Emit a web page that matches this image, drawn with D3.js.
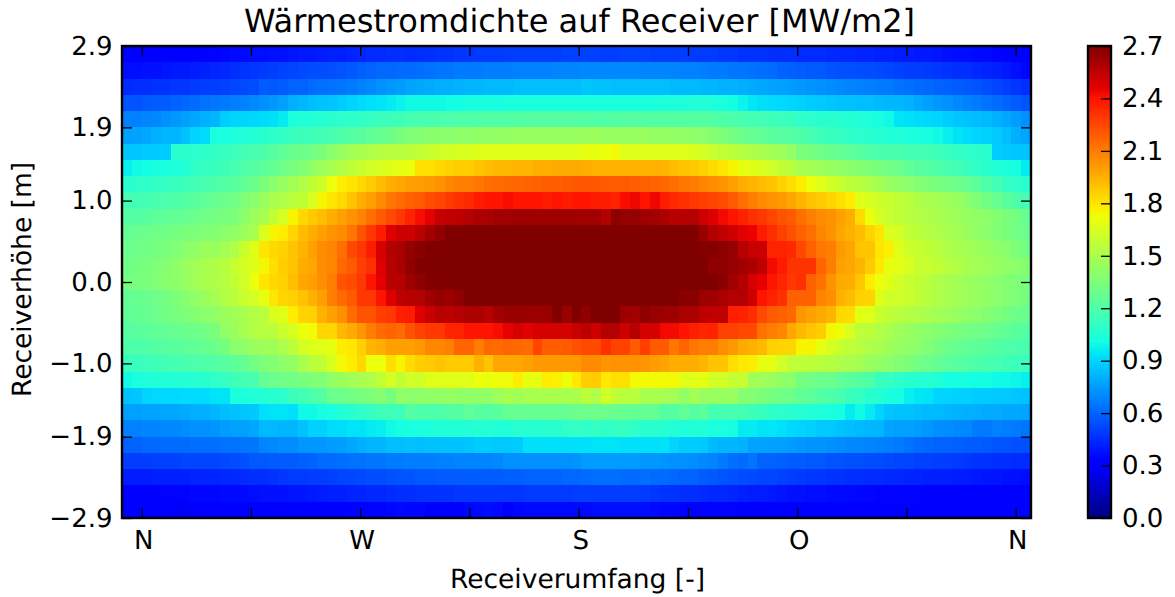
<!DOCTYPE html>
<html>
<head>
<meta charset="utf-8">
<script src="https://d3js.org/d3.v7.min.js"></script>
<style>
  body { margin: 0; background: #fff; }
  text { font-family: "DejaVu Sans", sans-serif; fill: #000; text-rendering: geometricPrecision; }
</style>
</head>
<body>
<svg id="chart" width="1175" height="597"></svg>
<script>
// unit 0.01 MW/m2, top row of the plot first, 93 cells per row
const fluxRows = [
  [30,30,31,31,31,32,33,33,33,34, 35,36,36,37,37,38,38,39,40,40, 41,42,42,43,44,45,45,46,46,45, 46,46,47,47,48,48,49,49,49,50, 50,50,50,50,50,51,51,51,51,50, 50,51,51,51,50,50,50,50,49,49, 49,48,48,47,47,47,46,46,46,45, 45,45,44,44,44,43,43,42,42,41, 41,40,40,39,38,37,37,36,36,34, 33,31,31],
  [37,37,38,38,39,40,40,41,42,43, 44,46,47,48,49,50,51,52,53,54, 54,55,56,57,59,60,61,61,62,62, 63,64,65,65,66,66,66,67,67,67, 68,68,68,68,69,69,69,70,70,70, 70,70,70,69,69,69,69,68,68,67, 66,66,65,65,64,63,62,60,59,58, 57,57,56,55,55,54,54,53,52,51, 50,50,49,48,47,46,46,44,43,42, 40,38,35],
  [45,46,46,47,47,48,48,49,50,50, 51,52,53,54,58,57,58,60,60,62, 63,64,65,66,68,70,72,74,75,77, 78,79,80,80,81,82,82,83,83,83, 84,84,84,84,84,84,84,86,85,85, 84,84,84,84,84,84,83,83,83,82, 82,81,81,80,79,78,77,76,75,74, 73,72,71,70,69,68,67,66,66,64, 63,62,61,60,59,58,57,56,54,52, 50,48,46],
  [56,56,57,58,58,60,61,62,64,65, 66,67,68,70,72,74,76,80,82,84, 85,86,88,90,92,93,94,96,98,100, 100,100,100,101,101,102,102,102,102,103, 103,103,103,103,103,103,103,103,103,103, 103,103,103,103,103,104,104,104,105,105, 104,103,101,98,95,93,92,91,90,89, 88,87,86,85,85,84,84,83,82,82, 81,78,76,74,72,70,68,66,64,62, 60,58,56],
  [68,68,69,70,72,74,76,78,80,82, 88,90,90,91,92,93,96,104,105,106, 107,108,109,110,111,112,113,114,115,117, 118,118,119,119,120,120,120,121,121,121, 122,122,122,122,122,122,122,122,121,121, 122,122,122,122,122,122,122,122,122,122, 121,120,119,118,117,116,115,114,113,110, 109,108,108,107,106,105,104,102,100,94, 93,92,91,90,88,86,85,84,83,80, 78,75,72],
  [76,77,78,80,82,82,85,90,92,103, 103,104,105,106,108,110,111,113,114,115, 116,118,120,122,124,126,128,131,134,137, 138,139,140,140,141,141,142,142,143,143, 144,144,144,144,144,144,144,145,145,144, 144,144,144,144,143,143,142,142,141,140, 138,136,133,130,128,126,124,123,122,120, 117,115,113,112,110,109,108,107,106,105, 104,103,102,100,97,94,92,90,89,87, 84,80,78],
  [86,86,87,87,88,108,108,109,110,111, 113,114,116,118,120,123,126,129,130,132, 135,140,144,148,150,152,154,155,155,156, 158,160,162,164,165,166,167,168,168,168, 168,168,168,168,168,168,168,170,170,172, 174,167,167,167,167,167,167,167,166,163, 160,158,156,154,152,150,148,146,142,135, 133,131,129,127,125,123,120,119,118,118, 117,117,116,115,113,111,110,109,108,88, 87,86,85],
  [97,100,101,102,103,104,106,110,112,113, 115,117,120,122,125,128,131,134,137,142, 146,150,153,157,160,163,165,168,170,172, 182,182,184,186,187,187,190,192,193,193, 194,194,196,196,197,197,197,196,195,195, 195,195,195,195,195,194,192,190,188,186, 183,180,176,170,168,165,162,158,155,150, 148,146,144,142,140,138,136,134,132,130, 126,124,122,120,118,116,113,110,108,106, 104,102,96],
  [108,109,110,111,112,113,114,116,118,120, 122,124,126,130,135,140,144,148,152,158, 162,172,178,180,184,188,192,196,198,200, 201,202,204,208,209,210,212,214,215,216, 216,217,218,219,219,220,221,221,221,220, 220,220,219,218,217,216,214,212,210,208, 206,204,200,196,194,192,190,186,182,178, 172,168,164,160,156,155,152,148,144,142, 140,138,136,134,132,130,128,124,120,116, 112,110,108],
  [116,116,117,118,119,120,122,124,126,128, 130,132,136,140,145,150,152,155,158,165, 175,180,184,190,196,200,206,212,215,218, 220,224,226,230,232,234,238,240,240,242, 240,240,240,238,240,238,240,240,238,238, 236,242,244,240,244,238,234,232,230,228, 226,224,220,214,210,206,204,202,198,194, 190,188,185,182,178,168,165,162,160,157, 155,152,150,148,146,144,140,136,132,128, 124,120,116],
  [122,122,124,125,126,127,128,130,132,133, 134,136,140,146,150,158,165,176,184,188, 192,196,200,204,208,214,220,225,230,236, 242,247,254,255,256,258,260,260,262,262, 263,263,263,263,263,263,262,262,262,258, 267,265,265,263,262,260,257,257,258,252, 248,243,240,236,232,230,226,222,220,214, 210,206,204,200,196,183,172,164,160,158, 155,153,152,150,148,146,144,142,140,138, 135,133,128],
  [128,129,130,131,132,133,135,136,137,138, 140,142,146,150,166,176,178,185,192,196, 200,204,206,212,222,230,238,248,252,252, 256,262,266,270,272,274,275,276,276,277, 277,278,278,278,278,278,278,278,278,278, 278,278,278,278,278,278,276,274,270,264, 258,255,252,247,245,238,233,227,223,218, 214,208,204,198,195,192,185,180,166,163, 158,156,154,152,150,148,145,142,140,137, 135,132,130],
  [130,131,132,133,135,137,140,142,145,145, 148,152,160,168,180,184,186,190,194,200, 206,208,214,225,230,238,250,258,260,265, 268,270,274,276,278,280,282,284,285,286, 287,288,290,290,291,291,292,292,292,292, 292,292,292,291,290,290,289,285,278,269, 269,267,265,257,253,253,236,236,234,225, 218,212,210,202,198,190,190,180,177,168, 162,160,158,155,152,150,148,146,144,142, 140,136,132],
  [132,133,134,136,138,141,144,147,150,152, 155,160,164,168,175,182,187,190,196,198, 206,207,216,220,228,232,248,257,260,266, 275,276,274,276,280,284,286,288,290,292, 294,295,296,297,298,298,298,298,298,298, 298,298,298,297,296,295,294,293,290,288, 266,266,265,262,260,255,243,238,231,231, 231,217,210,200,198,194,188,179,170,169, 165,160,160,158,155,153,150,148,146,144, 142,140,138],
  [133,134,135,137,139,141,144,147,150,152, 154,158,162,172,180,184,186,191,198,200, 205,210,222,224,230,240,247,257,257,263, 266,269,272,276,278,280,282,284,286,288, 290,292,294,296,298,298,300,300,300,300, 300,300,300,298,298,296,295,294,292,290, 290,268,262,258,250,246,240,235,230,232, 218,213,204,197,196,189,178,172,168,163, 160,158,155,152,150,148,146,144,142,140, 138,136,134],
  [127,128,129,131,133,136,139,142,145,148, 153,156,160,163,170,180,185,186,190,195, 200,210,215,220,230,230,240,248,255,257, 258,262,265,263,266,272,274,276,278,280, 282,284,285,286,286,286,288,288,288,288, 288,288,288,286,284,282,278,268,268,263, 263,260,258,258,252,240,236,232,218,218, 218,208,205,195,192,186,185,168,162,162, 160,158,155,152,150,148,146,144,142,140, 138,136,133],
  [126,127,128,130,132,134,136,138,140,142, 145,147,150,153,155,166,168,178,185,186, 195,200,205,215,222,222,228,230,237,238, 248,253,257,256,258,259,260,257,262,264, 264,264,263,264,270,264,270,266,272,272, 272,263,262,266,264,263,263,260,260,256, 255,255,237,236,233,225,220,218,216,203, 200,197,194,184,183,169,168,160,158,155, 153,152,150,148,146,144,142,140,138,136, 133,131,129],
  [123,124,125,126,127,128,129,130,132,135, 142,145,149,153,155,155,161,165,172,174, 185,185,193,197,203,210,215,217,215,222, 227,230,230,236,236,240,240,240,242,246, 250,247,250,250,250,250,253,256,252,258, 258,252,257,250,250,243,243,240,237,235, 236,227,227,225,225,213,210,207,198,193, 189,187,175,173,165,157,156,153,150,146, 144,142,140,138,136,134,133,132,130,128, 126,124,122],
  [120,120,121,122,123,124,125,126,128,130, 133,140,141,145,146,147,151,156,164,167, 168,170,178,179,186,194,196,200,200,200, 202,207,207,209,217,217,210,216,215,217, 216,215,226,219,219,220,223,225,225,232, 227,227,220,228,220,220,212,217,212,210, 210,205,202,197,195,193,186,185,185,176, 176,170,165,160,157,155,152,150,147,144, 142,140,137,133,130,128,126,125,124,122, 120,119,118],
  [113,113,114,115,116,117,118,119,120,121, 123,125,127,132,136,138,141,143,150,155, 158,166,174,178,184,172,172,182,176,183, 187,188,190,188,188,188,195,190,198,198, 198,200,202,202,202,202,202,206,206,203, 204,204,204,203,201,199,196,196,196,194, 190,190,182,179,178,170,170,163,157,157, 156,155,154,152,150,148,144,142,140,137, 135,132,130,127,125,123,121,120,118,117, 115,114,113],
  [100,103,104,105,105,106,106,107,108,110, 112,115,117,118,127,130,131,132,134,136, 137,142,145,148,149,152,158,164,158,162, 162,168,168,168,168,168,172,171,173,173, 178,170,170,178,177,173,179,187,188,179, 182,182,174,174,174,174,174,168,168,170, 163,163,159,159,147,147,145,142,140,133, 132,130,130,126,125,122,120,113,112,109, 108,107,107,106,102,102,102,101,101,100, 100,99,97],
  [85,86,90,91,91,91,92,92,92,94, 94,103,104,105,106,108,109,113,116,120, 122,130,130,132,134,136,138,133,142,140, 141,142,142,144,142,142,142,142,146,150, 147,150,150,150,150,150,150,156,152,163, 157,155,155,150,150,149,148,142,148,144, 144,144,144,138,137,135,133,132,130,126, 125,122,120,118,113,112,108,107,103,102, 97,95,94,90,90,89,89,88,88,87, 87,86,85],
  [76,76,77,77,78,78,79,80,80,82, 84,85,86,87,93,94,94,93,100,100, 102,103,106,108,110,112,115,115,114,122, 120,120,120,122,122,126,123,122,124,128, 128,128,128,128,128,128,130,130,130,130, 128,128,127,127,127,122,122,126,122,125, 117,117,117,117,115,113,110,109,108,107, 105,104,103,102,96,100,96,90,86,85, 85,84,83,83,82,81,80,80,79,79, 78,78,77],
  [68,68,69,69,70,70,71,72,72,73, 75,76,76,78,83,83,82,82,85,89, 89,92,92,94,94,96,97,100,102,103, 103,104,105,105,106,106,107,107,105,105, 108,107,107,108,108,110,112,110,112,110, 112,113,110,108,108,107,106,105,105,105, 103,103,102,96,96,94,95,93,91,90, 89,87,87,85,84,83,82,82,77,76, 76,75,74,72,71,70,70,66,66,68, 67,66,65],
  [60,60,61,61,62,62,62,63,63,63, 64,64,65,65,69,70,71,71,74,74, 74,75,76,78,80,82,82,84,84,85, 84,85,85,85,85,86,88,88,87,87, 88,93,93,93,93,93,93,93,94,94, 94,93,93,93,93,94,90,88,88,87, 83,82,82,81,77,77,76,76,75,74, 73,73,72,71,70,70,69,68,67,66, 64,62,61,60,60,59,58,58,57,56, 56,55,55],
  [50,50,50,51,51,51,52,52,52,52, 53,54,55,57,57,58,58,58,59,60, 62,62,63,64,64,65,65,66,66,67, 67,67,68,68,69,69,69,69,70,72, 72,72,72,72,72,72,73,75,75,75, 75,75,75,74,74,73,72,72,71,70, 69,66,63,62,65,60,60,59,58,58, 57,57,56,56,55,55,54,54,53,52, 52,51,51,50,50,49,48,47,47,46, 46,45,45],
  [41,41,41,42,42,42,42,43,43,43, 44,44,45,46,46,47,48,49,49,50, 50,51,52,52,53,54,54,55,56,56, 57,57,58,58,58,58,58,58,58,59, 59,60,60,60,60,61,61,62,63,63, 63,62,62,63,62,62,61,60,60,58, 57,56,55,54,53,52,52,51,50,49, 48,48,47,47,46,46,45,45,44,44, 43,43,42,42,42,41,41,40,39,39, 38,38,37],
  [33,33,33,33,34,34,34,35,35,35, 36,36,36,37,38,38,38,39,39,40, 41,42,42,43,43,44,44,45,46,46, 47,47,47,47,48,48,48,48,48,48, 48,49,49,49,49,49,50,50,50,50, 50,50,50,49,48,47,47,46,46,45, 44,44,43,42,41,41,40,39,38,38, 37,37,36,36,36,35,35,34,34,34, 34,34,33,33,33,33,33,32,32,32, 32,32,32],
  [30,30,30,30,29,28,28,29,29,30, 30,30,31,31,31,32,32,32,33,33, 33,33,33,34,34,34,34,35,36,35, 35,33,33,33,33,35,36,37,36,33, 35,36,36,36,36,36,36,36,37,37, 37,37,37,37,36,35,35,34,34,34, 34,34,34,33,33,33,33,33,33,33, 33,33,33,33,33,33,33,33,33,33, 33,33,32,32,32,31,31,31,31,31, 30,30,31]
];

const yTicks = [2.9, 1.9, 1.0, 0.0, -1.0, -1.9, -2.9];
const xTicks = [0, 45, 90, 135, 180, 225, 270, 315, 360];
const xTickLabels = ["N", "", "W", "", "S", "", "O", "", "N"];
const barTicks = [0.0, 0.3, 0.6, 0.9, 1.2, 1.5, 1.8, 2.1, 2.4, 2.7];

// jet colormap segments
const jetRed = [[0, 0], [0.35, 0], [0.66, 1], [0.89, 1], [1, 0.5]];
const jetGreen = [[0, 0], [0.125, 0], [0.375, 1], [0.64, 1], [0.91, 0], [1, 0]];
const jetBlue = [[0, 0.5], [0.11, 1], [0.34, 1], [0.65, 0], [1, 0]];

const maxFlux = 2.7;

function channel(seg) {
  return d3.scaleLinear().domain(seg.map(d => d[0] * maxFlux)).range(seg.map(d => d[1] * 255)).clamp(true);
}
const redScale = channel(jetRed), greenScale = channel(jetGreen), blueScale = channel(jetBlue);
const jet = v => `rgb(${Math.round(redScale(v))},${Math.round(greenScale(v))},${Math.round(blueScale(v))})`;

const left = 122, right = 1031, top_ = 46, bottom = 518;

const svg = d3.select("#chart");

const cols = d3.scaleBand().domain(d3.range(fluxRows[0].length)).range([left, right]);
const rows = d3.scaleBand().domain(d3.range(fluxRows.length)).range([top_, bottom]);
const xScale = d3.scaleLinear().domain([0, 360]).range([141.7, 1015.7]);
const yScale = d3.scaleLinear().domain([-2.9, 2.9]).range([bottom, top_]);
const barScale = d3.scaleLinear().domain([0, maxFlux]).range([bottom, top_]);

// heat cells
svg.append("g").selectAll("g")
  .data(fluxRows)
  .enter().append("g")
  .attr("transform", (d, i) => `translate(0,${rows(i)})`)
  .selectAll("rect")
  .data(d => d)
  .enter().append("rect")
  .attr("x", (d, i) => cols(i))
  .attr("width", cols.bandwidth() + 0.5)
  .attr("height", rows.bandwidth() + 0.5)
  .attr("shape-rendering", "crispEdges")
  .attr("fill", d => jet(d / 100));

function tickStyle(g, size) {
  g.select(".domain").remove();
  g.selectAll("line").attr("stroke", "#000").attr("stroke-width", 1.3);
  g.selectAll("text").attr("font-size", size).attr("font-family", '"DejaVu Sans", sans-serif');
}

const fmt = v => v.toFixed(1).replace("-", "\u2212");

svg.append("g").attr("transform", `translate(${left},0)`)
  .call(d3.axisLeft(yScale).tickValues(yTicks).tickFormat(fmt).tickSizeInner(-10).tickSizeOuter(0).tickPadding(9.5))
  .call(tickStyle, 26);
svg.append("g").attr("transform", `translate(${right},0)`)
  .call(d3.axisRight(yScale).tickValues(yTicks).tickFormat("").tickSizeInner(-10).tickSizeOuter(0))
  .call(tickStyle, 26);
const xAxis = svg.append("g").attr("transform", `translate(0,${bottom})`)
  .call(d3.axisBottom(xScale).tickValues(xTicks).tickFormat((d, i) => xTickLabels[i]).tickSizeInner(-10).tickSizeOuter(0).tickPadding(12.5))
  .call(tickStyle, 26);
// labels sit a little right of their ticks in the original
xAxis.selectAll("text").attr("dx", 1.5);
svg.append("g").attr("transform", `translate(0,${top_})`)
  .call(d3.axisTop(xScale).tickValues(xTicks).tickFormat("").tickSizeInner(-10).tickSizeOuter(0))
  .call(tickStyle, 26);

svg.append("rect").attr("x", left).attr("y", top_)
  .attr("width", right - left).attr("height", bottom - top_)
  .attr("fill", "none").attr("stroke", "#000").attr("stroke-width", 2.4);

// colour bar
const barLeft = 1088, barRight = 1111;
const barSteps = d3.range(256).map(i => i / 256 * maxFlux);
svg.append("g").selectAll("rect")
  .data(barSteps)
  .enter().append("rect")
  .attr("x", barLeft)
  .attr("width", barRight - barLeft)
  .attr("y", d => barScale(d + maxFlux / 256))
  .attr("height", barScale(0) - barScale(maxFlux / 256) + 0.5)
  .attr("shape-rendering", "crispEdges")
  .attr("fill", d => jet(d + maxFlux / 512));

svg.append("g").attr("transform", `translate(${barRight},0)`)
  .call(d3.axisRight(barScale).tickValues(barTicks).tickFormat(d => d.toFixed(1)).tickSizeInner(-10).tickSizeOuter(0).tickPadding(11))
  .call(tickStyle, 26);

svg.append("rect").attr("x", barLeft).attr("y", top_)
  .attr("width", barRight - barLeft).attr("height", bottom - top_)
  .attr("fill", "none").attr("stroke", "#000").attr("stroke-width", 2.4);

// titles
svg.append("text").attr("x", 579.5).attr("y", 32).attr("text-anchor", "middle")
  .attr("font-size", 32).text("Wärmestromdichte auf Receiver [MW/m2]");
svg.append("text").attr("x", 577.5).attr("y", 588).attr("text-anchor", "middle")
  .attr("font-size", 26.5).text("Receiverumfang [-]");
svg.append("text").attr("transform", "translate(31,279.5) rotate(-90)").attr("text-anchor", "middle")
  .attr("font-size", 26.5).text("Receiverhöhe [m]");
</script>
</body>
</html>
